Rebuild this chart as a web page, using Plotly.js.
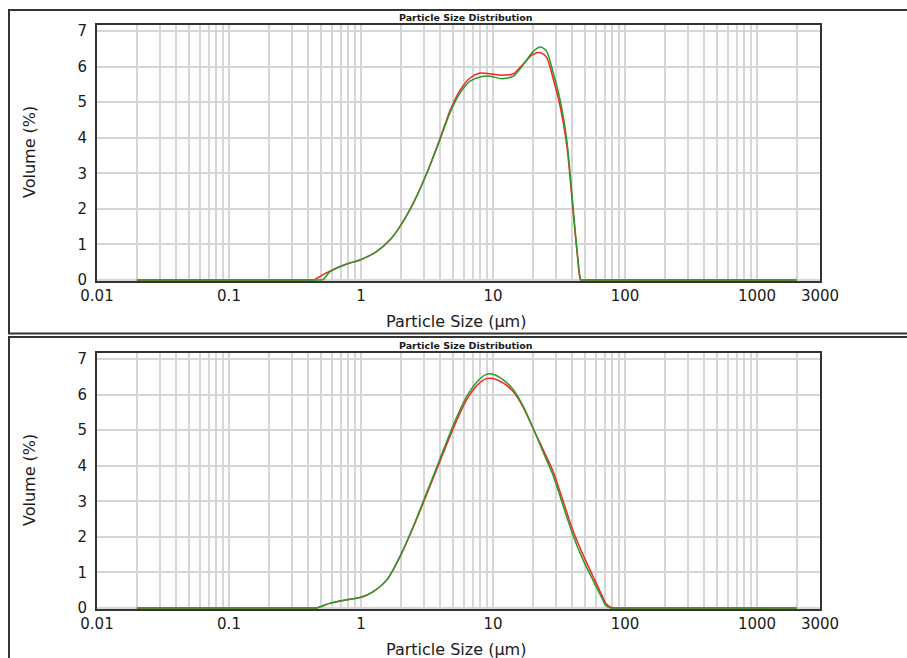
<!DOCTYPE html>
<html><head><meta charset="utf-8">
<script src="https://cdn.plot.ly/plotly-3.0.1.min.js"></script>
<style>html,body{margin:0;padding:0;background:#fff}#chart{width:907px;height:658px}</style>
</head><body><div id="chart"></div>
<script>
const chartTitle = 'Particle Size Distribution';
const xTitle = 'Particle Size (µm)';
const yTitle = 'Volume (%)';
const xLabelVals = [0.01, 0.1, 1, 10, 100, 1000, 3000];
const xLabelText = ['0.01', '0.1', '1', '10', '100', '1000', '3000'];
const decades = [0.01, 0.1, 1, 10, 100, 1000];
const minorSteps = [1, 2, 3, 4, 5, 6, 7, 8, 9];
const yTickVals = [0, 1, 2, 3, 4, 5, 6, 7];

// Top panel
const topGreenSize = [0.02, 0.03, 0.4, 0.47, 0.5, 0.52, 0.58, 0.78, 0.98, 1.31, 1.66, 1.97, 2.49, 3.15, 3.96, 4.72, 5.63, 6.7, 7.98, 9.5, 11.6, 14.3, 17, 20.2, 23, 25.5, 28.6, 32.2, 36.2, 40.6, 43.8, 46.4, 48, 60, 1500, 2000];
const topGreenVol  = [0, 0, 0, 0, 0, 0.02, 0.23, 0.45, 0.56, 0.8, 1.13, 1.5, 2.16, 3.0, 3.94, 4.7, 5.26, 5.59, 5.71, 5.73, 5.66, 5.73, 6.06, 6.43, 6.55, 6.43, 5.82, 5.07, 3.94, 1.97, 0.66, 0, 0, 0, 0, 0];
const topRedSize = [0.02, 0.03, 0.36, 0.42, 0.44, 0.5, 0.58, 0.78, 0.98, 1.31, 1.66, 1.97, 2.49, 3.15, 3.96, 4.72, 5.63, 6.7, 7.98, 9.5, 11.6, 14.3, 17, 20.2, 23, 25.5, 28.6, 32.2, 36.2, 40.6, 43.8, 46, 48, 60, 1500, 2000];
const topRedVol  = [0, 0, 0, 0, 0, 0.12, 0.25, 0.45, 0.56, 0.8, 1.13, 1.5, 2.16, 3.0, 3.97, 4.76, 5.34, 5.68, 5.82, 5.8, 5.76, 5.8, 6.08, 6.35, 6.39, 6.26, 5.65, 4.9, 3.8, 1.85, 0.6, 0, 0, 0, 0, 0];

// Bottom panel
const botGreenSize = [0.02, 0.03, 0.38, 0.44, 0.46, 0.58, 0.78, 1.0, 1.24, 1.57, 1.97, 2.49, 3.15, 3.96, 5.0, 6.31, 7.6, 8.9, 10, 12, 14.3, 17, 20.2, 24, 28.6, 34, 40.6, 48, 57, 66, 71, 78, 82, 95, 1500, 2000];
const botGreenVol  = [0, 0, 0, 0, 0, 0.13, 0.23, 0.3, 0.46, 0.79, 1.45, 2.3, 3.25, 4.19, 5.14, 5.94, 6.37, 6.57, 6.57, 6.41, 6.13, 5.66, 5.04, 4.38, 3.72, 2.87, 2.02, 1.36, 0.79, 0.32, 0.085, 0, 0, 0, 0, 0];
const botRedSize = [0.02, 0.03, 0.38, 0.44, 0.46, 0.58, 0.78, 1.0, 1.24, 1.57, 1.97, 2.49, 3.15, 3.96, 5.0, 6.31, 7.6, 8.9, 10, 12, 14.3, 17, 20.2, 24, 28.6, 34, 40.6, 48, 57, 66, 71, 78, 81, 85, 95, 1500, 2000];
const botRedVol  = [0, 0, 0, 0, 0, 0.13, 0.23, 0.3, 0.46, 0.79, 1.43, 2.27, 3.2, 4.12, 5.05, 5.85, 6.27, 6.45, 6.45, 6.32, 6.07, 5.63, 5.04, 4.45, 3.83, 3.0, 2.15, 1.5, 0.9, 0.4, 0.15, 0.02, 0, 0, 0, 0, 0];

const W = 907, H = 658;
const px = v => v / W;
const py = v => 1 - v / H;

// grid tick values (1..9 per decade up to 3000)
const gridVals = [];
decades.forEach(d => minorSteps.forEach(m => { const v = +(d * m).toPrecision(3); if (v <= 3000) gridVals.push(v); }));
gridVals.push(3000);
const gridText = gridVals.map(v => { const i = xLabelVals.indexOf(v); return i >= 0 ? xLabelText[i] : ''; });

const fontFam = 'DejaVu Sans, Verdana, sans-serif';
const textCol = '#1a1a1a';
const gridCol = '#d6d6d6';

function xAxis(anchor) {
  return {
    type: 'log', range: [-2, Math.log10(3000)], domain: [px(97), px(820)], anchor: anchor,
    tickmode: 'array', tickvals: gridVals, ticktext: gridText,
    showgrid: true, gridcolor: gridCol, gridwidth: 2,
    showline: true, mirror: true, linecolor: '#333', linewidth: 2,
    ticks: 'outside', ticklen: 0, tickcolor: 'rgba(0,0,0,0)',
    tickfont: {family: fontFam, size: 15, color: textCol},
    zeroline: false, layer: 'below traces', fixedrange: true
  };
}
function yAxis(anchor, top, bottom) {
  return {
    range: [-0.04, 7.17], domain: [py(bottom), py(top)], anchor: anchor,
    tickmode: 'array', tickvals: yTickVals,
    showgrid: true, gridcolor: gridCol, gridwidth: 2,
    showline: true, mirror: true, linecolor: '#333', linewidth: 2,
    ticks: 'outside', ticklen: 5, tickcolor: 'rgba(0,0,0,0)',
    tickfont: {family: fontFam, size: 15, color: textCol},
    zeroline: false, layer: 'below traces', fixedrange: true
  };
}

const lineOpts = c => ({color: c, width: 1.5, shape: 'spline', smoothing: 0.7});
const red = '#ff2020', green = '#2a9a2a';

const traces = [
  {x: topRedSize, y: topRedVol, xaxis: 'x', yaxis: 'y', mode: 'lines', line: lineOpts(red), hoverinfo: 'skip'},
  {x: topGreenSize, y: topGreenVol, xaxis: 'x', yaxis: 'y', mode: 'lines', line: lineOpts(green), hoverinfo: 'skip'},
  {x: botRedSize, y: botRedVol, xaxis: 'x2', yaxis: 'y2', mode: 'lines', line: lineOpts(red), hoverinfo: 'skip'},
  {x: botGreenSize, y: botGreenVol, xaxis: 'x2', yaxis: 'y2', mode: 'lines', line: lineOpts(green), hoverinfo: 'skip'}
];

const ann = (text, x, y, size, extra) => Object.assign({
  text: text, xref: 'paper', yref: 'paper', x: px(x), y: py(y), xanchor: 'center', yanchor: 'middle',
  showarrow: false, font: {family: fontFam, size: size, color: textCol}
}, extra || {});

const off = 328;
const annotations = [
  ann('<b>' + chartTitle + '</b>', 466, 17, 9.5),
  ann('<b>' + chartTitle + '</b>', 466, 17 + off, 9.5),
  ann(xTitle, 456, 321, 16),
  ann(xTitle, 456, 321 + off, 16),
  ann(yTitle, 29, 152, 16, {textangle: -90}),
  ann(yTitle, 29, 152 + off, 16, {textangle: -90})
];

const shapes = [
  {type: 'rect', xref: 'paper', yref: 'paper', x0: px(9), x1: 1.2, y0: py(333.5), y1: py(10), line: {color: '#333', width: 2}},
  {type: 'rect', xref: 'paper', yref: 'paper', x0: px(9), x1: 1.2, y0: py(720), y1: py(337), line: {color: '#333', width: 2}}
];

const layout = {
  width: W, height: H, margin: {l: 0, r: 0, t: 0, b: 0},
  paper_bgcolor: '#fff', plot_bgcolor: '#fff', showlegend: false,
  xaxis: xAxis('y'), yaxis: yAxis('x', 25, 281.4),
  xaxis2: xAxis('y2'), yaxis2: yAxis('x2', 25 + off, 281.4 + off),
  annotations: annotations, shapes: shapes
};

Plotly.newPlot('chart', traces, layout, {displayModeBar: false, staticPlot: true});
</script></body></html>
